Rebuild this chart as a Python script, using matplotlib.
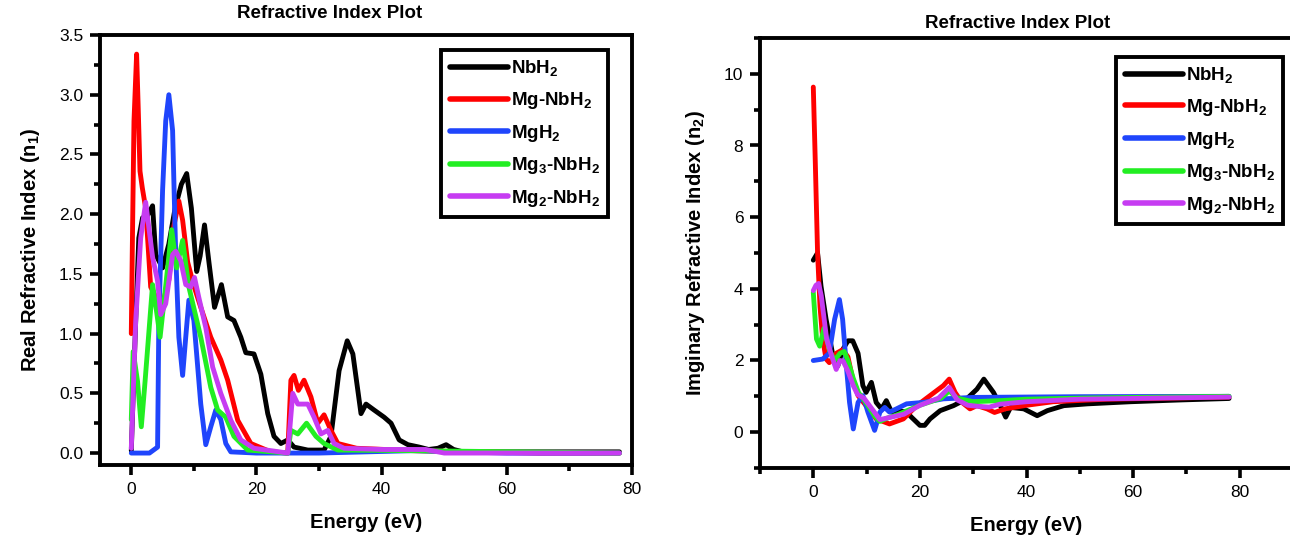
import matplotlib
matplotlib.use("Agg")
import matplotlib.pyplot as plt
from matplotlib.ticker import MultipleLocator

plt.rcParams['font.family'] = ['Liberation Sans', 'DejaVu Sans']
plt.rcParams['mathtext.default'] = 'regular'

labels = ['NbH$_2$', 'Mg-NbH$_2$', 'MgH$_2$', 'Mg$_3$-NbH$_2$', 'Mg$_2$-NbH$_2$']
colors = ['#000000', '#FF0000', '#1F45FC', '#22EE22', '#C63CF2']

# ---- real part n1 (left panel) ----
e_nb = [0, 0.7, 1.2, 1.8, 2.4, 3.4, 3.9, 5.0, 6.0, 7.0, 8.0, 8.85, 9.6, 10.45, 11.0, 11.7, 12.4, 13.3, 14.4,
        15.4, 16.4, 17.5, 18.3, 19.6, 20.7, 21.8, 22.8, 23.9, 25.0, 26.0, 28.2, 30.8, 31.9, 33.2, 34.5,
        35.4, 36.7, 37.5, 38.8, 40.4, 41.5, 42.8, 44.2, 46.0, 47.5, 49.0, 50.3, 51.5, 53.0, 78.0]
n_nb = [0.02, 1.1, 1.8, 1.97, 1.97, 2.07, 1.66, 1.55, 1.75, 2.05, 2.25, 2.34, 2.05, 1.52, 1.65, 1.91, 1.6, 1.22, 1.41,
        1.14, 1.11, 0.97, 0.84, 0.83, 0.66, 0.33, 0.14, 0.08, 0.11, 0.05, 0.025, 0.025, 0.14, 0.69, 0.94,
        0.83, 0.33, 0.41, 0.36, 0.30, 0.25, 0.11, 0.07, 0.05, 0.03, 0.04, 0.07, 0.03, 0.01, 0.01]

e_mgnb = [0, 0.15, 0.43, 0.85, 1.1, 1.39, 1.76, 2.3, 3.1, 4.0, 5.0, 6.0, 6.8, 7.6, 8.2, 9.0, 10.0, 11.1, 12.7,
          14.3, 15.4, 17.0, 19.1, 22.3, 25.0, 25.5, 26.0, 26.7, 27.6, 28.7, 29.8, 30.8, 31.9, 33.0, 36.0,
          45.0, 55.0, 65.0, 70.0, 78.0]
n_mgnb = [1.0, 1.66, 2.78, 3.34, 2.9, 2.36, 2.22, 2.05, 1.39, 1.3, 1.25, 1.45, 1.9, 2.11, 1.95, 1.6, 1.4, 1.22, 0.97,
          0.78, 0.61, 0.275, 0.08, 0.01, 0.0, 0.61, 0.65, 0.525, 0.61, 0.47, 0.25, 0.32, 0.19, 0.08, 0.04,
          0.02, 0.01, 0.0, 0.0, 0.0]

e_mgh = [0, 2.9, 4.2, 4.4, 5.0, 5.5, 6.0, 6.6, 7.1, 7.6, 8.2, 8.7, 9.2, 10.0, 11.1, 11.9, 12.7, 13.5, 14.3,
         15.1, 15.9, 20.0, 30.0, 45.0, 60.0, 78.0]
n_mgh = [0.0, 0.0, 0.05, 1.1, 2.2, 2.78, 3.0, 2.7, 1.66, 0.97, 0.65, 0.97, 1.28, 1.11, 0.41, 0.07, 0.22, 0.36, 0.28,
         0.08, 0.01, 0.0, 0.0, 0.02, 0.0, 0.0]

e_mg3 = [0, 0.3, 1.0, 1.6, 2.2, 3.4, 4.0, 4.6, 5.5, 6.45, 7.25, 8.2, 9.2, 11.1, 12.7, 13.8, 15.1, 16.4, 18.6,
         25.0, 25.5, 26.6, 28.0, 29.5, 30.8, 33.0, 45.0, 78.0]
n_mg3 = [0.28, 0.85, 0.6, 0.22, 0.6, 1.41, 1.2, 0.97, 1.4, 1.87, 1.55, 1.78, 1.39, 0.97, 0.55, 0.36, 0.30, 0.14, 0.025,
         0.0, 0.19, 0.16, 0.25, 0.14, 0.08, 0.025, 0.02, 0.0]

e_mg2 = [0, 0.7, 1.5, 2.3, 2.8, 3.4, 4.2, 4.7, 5.5, 6.6, 7.1, 7.9, 8.7, 9.5, 10.1, 10.8, 11.9, 13.0, 14.3,
         15.9, 17.5, 19.6, 25.0, 25.8, 26.6, 28.2, 29.2, 30.3, 31.4, 32.4, 34.0, 40.0, 47.0, 50.0, 78.0]
n_mg2 = [0.04, 1.1, 1.8, 2.1, 1.89, 1.64, 1.44, 1.16, 1.25, 1.66, 1.69, 1.61, 1.41, 1.39, 1.47, 1.30, 1.05, 0.72, 0.5,
         0.275, 0.11, 0.04, 0.0, 0.5, 0.41, 0.41, 0.3, 0.16, 0.19, 0.08, 0.04, 0.03, 0.03, 0.0, 0.0]

# ---- imaginary part n2 (right panel) ----
k_nb_e = [0, 0.8, 1.45, 2.4, 3.6, 4.6, 5.5, 6.5, 7.4, 8.4, 9.3, 9.9, 10.9, 11.8, 12.8, 13.7, 14.7, 15.9, 17.5,
          18.4, 20.0, 20.9, 21.9, 23.8, 26.3, 28.8, 30.7, 32.0, 33.8, 35.1, 36.1, 37.0, 39.5, 42.0, 43.9,
          47.0, 51.4, 59.6, 69.0, 78.0]
k_nb = [4.8, 5.0, 4.07, 3.15, 2.2, 1.85, 2.3, 2.55, 2.55, 2.2, 1.3, 1.11, 1.39, 0.83, 0.65, 0.88, 0.56, 0.6, 0.56,
        0.42, 0.19, 0.19, 0.37, 0.6, 0.74, 0.93, 1.2, 1.48, 1.11, 0.74, 0.42, 0.69, 0.65, 0.46, 0.6,
        0.74, 0.79, 0.85, 0.9, 0.94]

k_mgnb_e = [0, 0.38, 0.8, 1.26, 1.76, 2.4, 3.0, 4.3, 5.5, 6.5, 7.4, 8.4, 9.9, 11.8, 14.3, 16.9, 19.4, 21.9,
            24.4, 25.5, 26.6, 27.9, 29.4, 30.7, 32.6, 34.0, 36.0, 40.0, 45.0, 55.0, 78.0]
k_mgnb = [9.63, 7.5, 5.0, 3.5, 2.6, 2.04, 1.94, 2.2, 2.3, 2.1, 1.48, 1.02, 0.74, 0.37, 0.23, 0.37, 0.74, 1.02,
          1.3, 1.48, 1.11, 0.83, 0.65, 0.74, 0.65, 0.55, 0.65, 0.75, 0.85, 0.92, 0.98]

k_mgh_e = [0, 1.76, 3.0, 4.0, 4.9, 5.5, 6.2, 6.8, 7.5, 8.4, 9.3, 10.25, 11.5, 12.5, 13.4, 14.3, 15.6, 17.5,
           20.6, 24.4, 30.0, 50.0, 78.0]
k_mgh = [2.0, 2.04, 2.2, 3.15, 3.7, 3.15, 1.85, 0.83, 0.09, 0.83, 1.02, 0.56, 0.05, 0.56, 0.69, 0.56, 0.65, 0.79,
         0.83, 0.93, 0.97, 0.99, 1.0]

k_mg3_e = [0, 0.6, 1.2, 2.0, 3.0, 4.0, 5.0, 5.8, 6.5, 7.5, 8.5, 10.0, 11.5, 12.5, 14.0, 16.0, 20.0, 24.0,
           25.5, 27.0, 30.0, 35.0, 40.0, 50.0, 78.0]
k_mg3 = [3.9, 2.6, 2.4, 2.9, 2.3, 2.0, 2.2, 2.25, 2.0, 1.5, 1.1, 0.8, 0.45, 0.3, 0.4, 0.5, 0.75, 0.95,
         1.15, 0.95, 0.85, 0.88, 0.92, 0.95, 1.0]

k_mg2_e = [0, 0.5, 1.0, 1.5, 2.5, 3.5, 4.3, 5.0, 5.6, 6.5, 7.5, 8.3, 9.5, 11.0, 12.5, 14.0, 17.0, 20.0,
           23.5, 25.5, 27.0, 29.0, 31.0, 33.0, 35.0, 40.0, 50.0, 78.0]
k_mg2 = [3.95, 4.1, 4.15, 3.8, 2.6, 2.1, 1.75, 2.0, 1.98, 1.7, 1.3, 1.05, 0.95, 0.65, 0.35, 0.4, 0.5, 0.75,
         0.95, 1.25, 0.9, 0.75, 0.72, 0.7, 0.78, 0.85, 0.92, 0.98]

real_sets = [(e_nb, n_nb), (e_mgnb, n_mgnb), (e_mgh, n_mgh), (e_mg3, n_mg3), (e_mg2, n_mg2)]
imag_sets = [(k_nb_e, k_nb), (k_mgnb_e, k_mgnb), (k_mgh_e, k_mgh), (k_mg3_e, k_mg3), (k_mg2_e, k_mg2)]

fig = plt.figure(figsize=(12.9, 5.37), dpi=100)
ax1 = fig.add_axes([100 / 1290, 1 - 465 / 537, 532 / 1290, 430 / 537])
ax2 = fig.add_axes([760 / 1290, 1 - 468 / 537, 533 / 1290, 430 / 537])

for (x, y), c, lab in zip(real_sets, colors, labels):
    ax1.plot(x, y, color=c, lw=3.5, label=lab, solid_joinstyle='round', solid_capstyle='round')
for (x, y), c, lab in zip(imag_sets, colors, labels):
    ax2.plot(x, y, color=c, lw=3.5, label=lab, solid_joinstyle='round', solid_capstyle='round')

ax1.set_xlim(-5, 80)
ax1.set_ylim(-0.1, 3.5)
ax1.xaxis.set_major_locator(MultipleLocator(20))
ax1.xaxis.set_minor_locator(MultipleLocator(10))
ax1.yaxis.set_major_locator(MultipleLocator(0.5))
ax1.yaxis.set_minor_locator(MultipleLocator(0.25))
ax1.yaxis.set_major_formatter(plt.FormatStrFormatter('%.1f'))

ax2.set_xlim(-10, 90)
ax2.set_ylim(-1, 11)
ax2.xaxis.set_major_locator(MultipleLocator(20))
ax2.xaxis.set_minor_locator(MultipleLocator(10))
ax2.yaxis.set_major_locator(MultipleLocator(2))
ax2.yaxis.set_minor_locator(MultipleLocator(1))

for ax in (ax1, ax2):
    for s in ax.spines.values():
        s.set_linewidth(2.8)
    ax.tick_params(which='major', direction='out', length=7, width=2.6, labelsize=12.5, pad=5)
    ax.tick_params(which='minor', direction='out', length=4, width=2.6)
    ax.set_xlabel('Energy (eV)', fontsize=14.5, fontweight='bold', labelpad=12)
    leg = ax.legend(frameon=True, fancybox=False, edgecolor='black', framealpha=1,
                    prop={'weight': 'bold', 'size': 13.5}, handlelength=3.1,
                    labelspacing=0.62, borderpad=0.45, handletextpad=0.15, borderaxespad=0)
    leg.get_frame().set_linewidth(2.8)
    for h in leg.get_lines():
        h.set_linewidth(4)

ax1.legend_.set_bbox_to_anchor((0.955, 0.965))
ax1.legend_._loc = 1
ax2.legend_.set_bbox_to_anchor((0.981, 0.956))
ax2.legend_._loc = 1

ax1.set_ylabel('Real Refractive Index (n$_1$)', fontsize=14.5, fontweight='bold', labelpad=12)
ax2.set_ylabel('Imginary Refractive Index (n$_2$)', fontsize=14.5, fontweight='bold', labelpad=12)

fig.text(330 / 1290, 1 - 13 / 537, 'Refractive Index Plot', ha='center', va='center',
         fontsize=13.5, fontweight='bold')
fig.text(1018 / 1290, 1 - 23 / 537, 'Refractive Index Plot', ha='center', va='center',
         fontsize=13.5, fontweight='bold')

fig.savefig('out.png', dpi=100)
